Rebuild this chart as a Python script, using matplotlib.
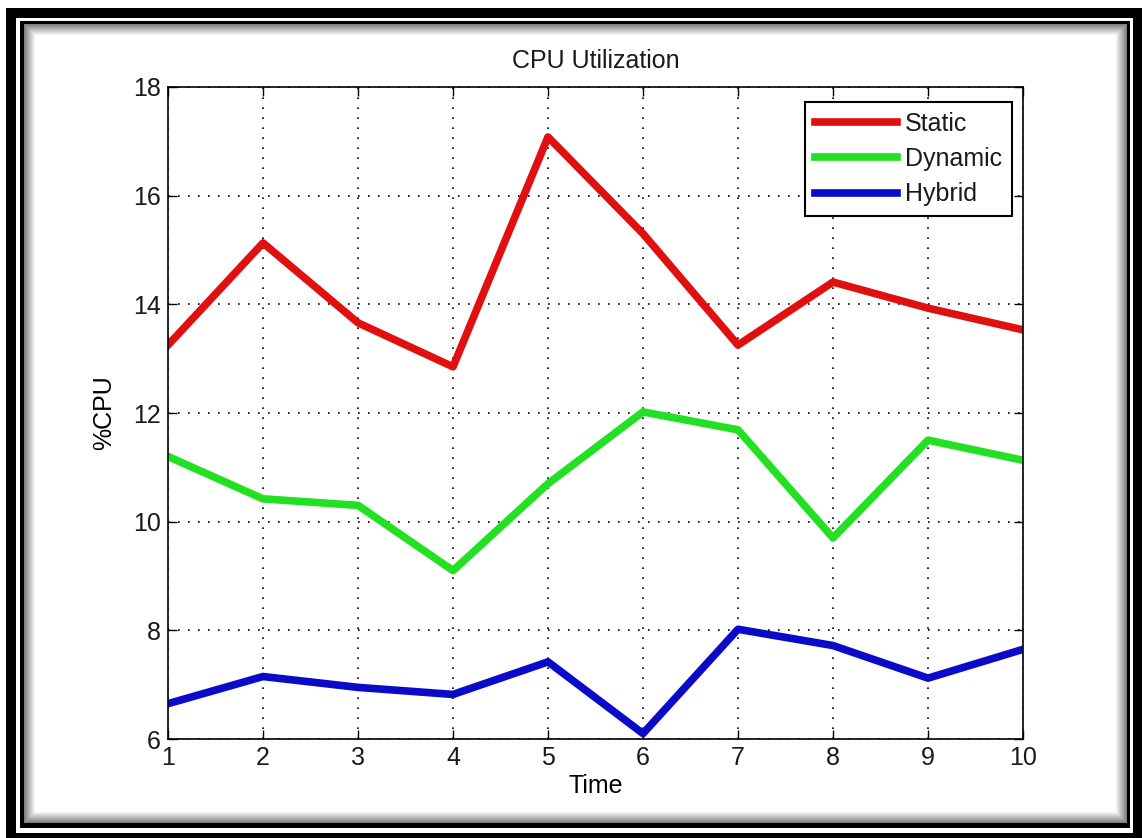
import matplotlib
matplotlib.use("Agg")
import matplotlib.pyplot as plt
from matplotlib.patches import Rectangle

plt.rcParams['font.family'] = ['Liberation Sans', 'DejaVu Sans']
plt.rcParams['text.color'] = '#1a1a1a'
plt.rcParams['xtick.labelcolor'] = '#1a1a1a'
plt.rcParams['ytick.labelcolor'] = '#1a1a1a'

# values
time = [1, 2, 3, 4, 5, 6, 7, 8, 9, 10]
static = [13.25, 15.13, 13.66, 12.85, 17.08, 15.3, 13.25, 14.41, 13.93, 13.53]
dynamic = [11.2, 10.42, 10.3, 9.1, 10.7, 12.02, 11.69, 9.7, 11.5, 11.13]
hybrid = [6.65, 7.15, 6.95, 6.82, 7.42, 6.1, 8.02, 7.72, 7.12, 7.65]
yticks = [6, 8, 10, 12, 14, 16, 18]

W, H = 1142, 838
fig = plt.figure(figsize=(W / 100, H / 100), dpi=100)

# background frame drawn in pixel coords
bg = fig.add_axes([0, 0, 1, 1])
bg.set_xlim(0, W)
bg.set_ylim(H, 0)
bg.axis('off')


def box(x0, y0, x1, y1, color):
    bg.add_patch(Rectangle((x0, y0), x1 - x0, y1 - y0, facecolor=color,
                           edgecolor='none'))


box(0, 0, W, H, 'white')
box(6, 8, W, H, 'black')          # thick outer border
box(16, 18, 1133, 833, 'white')
box(20, 21, 1130, 828, 'black')   # thin inner border
# soft shadow inside the inner border
steps = 12
for i in range(steps):
    g = 0.45 + 0.55 * (i + 1) / steps
    box(24 + i, 24 + i, 1127 - i, 823 - i, (g, g, g))

ax = fig.add_axes([168 / W, 1 - 739 / H, (1023 - 168) / W, (739 - 87) / H])
ax.set_facecolor('white')

ax.plot(time, static, color='#e01010', lw=5.5, label='Static')
ax.plot(time, dynamic, color='#22e022', lw=5.5, label='Dynamic')
ax.plot(time, hybrid, color='#0a0ac8', lw=5.5, label='Hybrid')

ax.set_xlim(1, 10)
ax.set_ylim(6, 18)
ax.set_xticks(time)
ax.set_yticks(yticks)
ax.grid(True, color='black', linestyle=(0, (1, 5)), linewidth=1.2)
ax.tick_params(direction='in', length=6.5, width=1, top=True, right=True,
               labelsize=18, pad=5)
for s in ax.spines.values():
    s.set_linewidth(1.2)

ax.set_title('CPU Utilization', fontsize=18, pad=14)
ax.set_xlabel('Time', fontsize=18, labelpad=3)
ax.set_ylabel('%CPU', fontsize=18, labelpad=12)

leg = ax.legend(loc='upper right', bbox_to_anchor=(0.987, 0.977),
                borderaxespad=0, fontsize=18, fancybox=False, framealpha=1,
                edgecolor='black', handlelength=3.3, handletextpad=0.3,
                labelspacing=0.45, borderpad=0.4)
leg.get_frame().set_linewidth(1.5)

fig.savefig('out.png', dpi=100)
